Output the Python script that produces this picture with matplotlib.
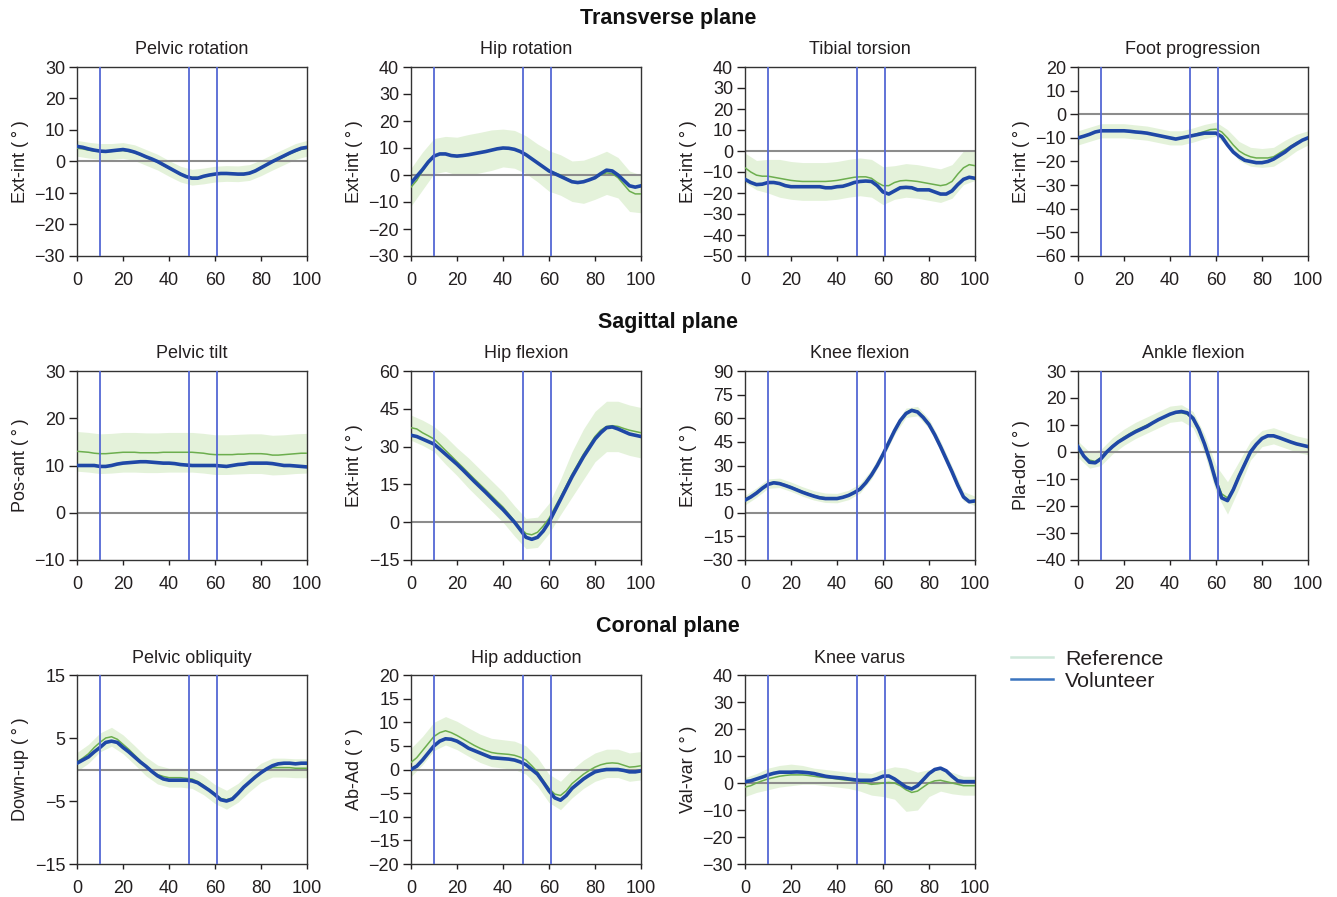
import numpy as np
import matplotlib
matplotlib.use("Agg")
import matplotlib.pyplot as plt
from matplotlib.lines import Line2D

plt.rcParams['font.family'] = ['Liberation Sans', 'DejaVu Sans']

# gait cycle (%) for the reference standard deviation band
cycle = [0, 5, 10, 15, 20, 25, 30, 35, 40, 45, 50, 55, 60, 65, 70, 75, 80, 85, 90, 95, 100]
# curves are sampled every 2.5 % of the gait cycle (0 ... 100)
events = [10, 48.6, 60.7]

row_titles = ["Transverse plane", "Sagittal plane", "Coronal plane"]

titles = ["Pelvic rotation", "Hip rotation", "Tibial torsion", "Foot progression",
          "Pelvic tilt", "Hip flexion", "Knee flexion", "Ankle flexion",
          "Pelvic obliquity", "Hip adduction", "Knee varus"]
ylabels = ["Ext-int (\u2009°\u2009)", "Ext-int (\u2009°\u2009)", "Ext-int (\u2009°\u2009)", "Ext-int (\u2009°\u2009)",
           "Pos-ant (\u2009°\u2009)", "Ext-int (\u2009°\u2009)", "Ext-int (\u2009°\u2009)", "Pla-dor (\u2009°\u2009)",
           "Down-up (\u2009°\u2009)", "Ab-Ad (\u2009°\u2009)", "Val-var (\u2009°\u2009)"]
yticks = [[-30, -20, -10, 0, 10, 20, 30],
          [-30, -20, -10, 0, 10, 20, 30, 40],
          [-50, -40, -30, -20, -10, 0, 10, 20, 30, 40],
          [-60, -50, -40, -30, -20, -10, 0, 10, 20],
          [-10, 0, 10, 20, 30],
          [-15, 0, 15, 30, 45, 60],
          [-30, -15, 0, 15, 30, 45, 60, 75, 90],
          [-40, -30, -20, -10, 0, 10, 20, 30],
          [-15, -5, 5, 15],
          [-20, -15, -10, -5, 0, 5, 10, 15, 20],
          [-30, -20, -10, 0, 10, 20, 30, 40]]

# Volunteer curves (every 2.5 %)
vol_pelvic_rot = [4.8, 4.5, 4.0, 3.6, 3.3, 3.2, 3.4, 3.6, 3.8, 3.5, 3.0, 2.3, 1.5, 0.8, 0.0, -1.0, -2.0, -3.0, -4.0, -4.8, -5.3,
                  -5.3, -4.7, -4.3, -4.0, -3.8, -3.8, -3.9, -4.0, -4.0, -3.7, -3.0, -2.0, -1.0, 0.0, 0.9, 1.8, 2.7, 3.5, 4.2, 4.5]
vol_hip_rot = [-3, -0.5, 2, 4.8, 7, 7.8, 7.8, 7.2, 7, 7.2, 7.5, 7.9, 8.3, 8.7, 9.2, 9.7, 10, 9.9, 9.5, 8.7, 7.5,
               6, 4.5, 3, 1.5, 0.5, -0.5, -1.5, -2.5, -2.8, -2.5, -1.8, -1, 0.5, 1.8, 1.5, 0, -2, -4, -4.5, -4]
vol_tibial = [-13.5, -15, -16, -15.8, -15, -15, -15.5, -16.5, -17, -17, -17, -17, -17, -17, -17.5, -17.5, -17, -16.8, -16, -15, -14.5,
              -14.3, -14.5, -16.5, -19.5, -20.5, -19, -17.5, -17.3, -17.5, -18.5, -18.5, -18.5, -19.5, -20.5, -20.5, -19, -16, -13.5, -12.5, -13]
vol_foot = [-10, -9.3, -8.5, -7.5, -7, -7, -7, -7, -7, -7.2, -7.5, -7.7, -8, -8.5, -9, -9.5, -10, -10.5, -10, -9.5, -9,
            -8.5, -8, -8, -8, -9.5, -13, -16, -18, -19.5, -20, -20.5, -20.5, -20, -19, -17.5, -16, -14, -12.5, -11, -10]
vol_pelvic_tilt = [10, 10, 10, 10, 9.8, 9.8, 10, 10.3, 10.5, 10.6, 10.7, 10.8, 10.8, 10.7, 10.6, 10.5, 10.5, 10.4, 10.2, 10.1, 10,
                   10, 10, 10, 10, 9.9, 9.8, 10, 10.2, 10.3, 10.5, 10.5, 10.5, 10.5, 10.4, 10.2, 10, 10, 9.9, 9.8, 9.7]
vol_hip_flex = [34.5, 34, 33, 32, 31, 29, 27, 25, 23, 20.8, 18.5, 16.2, 14, 11.8, 9.5, 7.2, 5, 2.5, 0, -3, -6,
                -6.8, -6, -3.5, 0, 4.5, 9, 13.5, 18, 22, 26, 29.5, 33, 35.5, 37.5, 37.8, 37, 36, 35, 34.5, 34]
vol_knee_flex = [8, 10, 12.5, 15.5, 18, 19, 18.5, 17.3, 16, 14.5, 13, 11.7, 10.5, 9.5, 9, 9, 9, 9.8, 11, 12.8, 15,
                 19, 24, 30, 37, 44.5, 52, 58.5, 63, 65, 64, 60.5, 56, 49.5, 42, 34, 26, 17.5, 10, 7, 7.5]
vol_ankle = [2, -1.5, -3.8, -4, -2.5, 0, 2, 3.7, 5, 6.3, 7.5, 8.5, 9.5, 10.8, 12, 13, 14, 14.7, 15, 14.5, 12.5,
             8.5, 3, -3.5, -11, -17, -18, -14, -9, -4.5, 0, 2.8, 5, 6, 6, 5.3, 4.5, 3.7, 3, 2.5, 2]
vol_pelvic_obl = [1, 1.5, 2, 2.8, 3.5, 4.3, 4.5, 4.3, 3.5, 2.8, 2, 1.2, 0.5, -0.3, -1, -1.5, -1.7, -1.7, -1.7, -1.7, -1.8,
                  -2.1, -2.7, -3.3, -4, -4.8, -5, -4.7, -3.8, -2.8, -2, -1.2, -0.5, 0.1, 0.6, 0.9, 1, 1, 0.9, 1, 1]
vol_hip_add = [0, 0.7, 2, 3.5, 5, 6, 6.5, 6.4, 6, 5.3, 4.5, 4, 3.5, 3, 2.5, 2.4, 2.3, 2.2, 2, 1.6, 1,
               0, -1, -2.7, -4.5, -6, -6.5, -5.5, -4, -3, -2, -1.2, -0.5, -0.2, 0, 0, 0, -0.2, -0.5, -0.5, -0.3]
vol_knee_var = [0.5, 0.8, 1.5, 2.2, 3, 3.6, 4, 4, 4, 4.1, 4, 3.8, 3.5, 3, 2.5, 2.2, 2, 1.8, 1.5, 1.2, 1,
                1, 1, 1.6, 2.5, 2.6, 1.5, 0, -1.5, -2.2, -1, 1.2, 3.5, 5, 5.5, 4.5, 2.5, 0.8, 0.5, 0.5, 0.5]

# Reference mean curves (every 2.5 %)
ref_pelvic_rot = [4.2, 4.0, 3.6, 3.3, 3.2, 3.1, 3.2, 3.4, 3.5, 3.2, 2.8, 2.1, 1.3, 0.6, -0.2, -1.2, -2.2, -3.1, -4.0, -4.6, -5.0,
                  -5.0, -4.6, -4.2, -4.0, -3.8, -3.8, -3.8, -3.9, -3.8, -3.5, -2.8, -2.0, -1.1, -0.2, 0.7, 1.5, 2.4, 3.2, 3.9, 4.2]
ref_hip_rot = [-4.5, -2, 1.5, 4.5, 7, 7.8, 7.8, 7.2, 7, 7.2, 7.5, 7.9, 8.3, 8.7, 9.2, 9.7, 10, 9.9, 9.5, 8.7, 7.5,
               6, 4.5, 3, 1.5, 0.8, 0, -1.2, -2.3, -2.7, -2.5, -1.8, -1, 0, 0.8, 0.5, -1, -3.5, -6, -7, -7]
ref_tibial = [-8, -10, -11.5, -12, -12, -12.5, -13, -13.5, -14, -14.3, -14.5, -14.5, -14.5, -14.5, -14.5, -14.3, -14, -13.5, -13, -12.5, -12.3,
              -12.3, -13, -15, -16.5, -16.5, -15, -14.2, -14, -14.2, -14.5, -15, -15.5, -16, -16.5, -16, -14.5, -11, -8, -6.5, -7]
ref_foot = [-10, -9.3, -8.5, -7.5, -7, -7, -7, -7, -7, -7.2, -7.5, -7.7, -8, -8.5, -9, -9.5, -10, -10.3, -10, -9.4, -8.8,
            -8, -7.3, -6.5, -6.3, -7.5, -10, -13, -15.5, -17, -18, -18.5, -18.5, -18.5, -18, -16.5, -15, -13.5, -12, -11, -10]
ref_pelvic_tilt = [13, 12.9, 12.8, 12.6, 12.5, 12.5, 12.6, 12.7, 12.8, 12.8, 12.8, 12.7, 12.7, 12.7, 12.7, 12.8, 12.8, 12.8, 12.8, 12.8, 12.8,
                   12.7, 12.6, 12.4, 12.3, 12.3, 12.3, 12.3, 12.4, 12.4, 12.5, 12.5, 12.5, 12.4, 12.2, 12.2, 12.3, 12.4, 12.5, 12.6, 12.6]
ref_hip_flex = [37.5, 37, 35.5, 34.3, 33, 30.8, 28.5, 26.3, 24, 21.8, 19.5, 17.2, 15, 12.8, 10.5, 8.2, 6, 3.3, 0.5, -2.3, -4.5,
                -5, -4, -1.5, 1.5, 5.8, 10, 14.5, 19, 23, 27, 30.5, 34, 36.5, 38, 38.3, 38, 37.2, 36.5, 36, 35.5]
ref_knee_flex = [8, 10.3, 12.8, 15.8, 18.5, 19.5, 19, 17.8, 16.5, 15, 13.5, 12.2, 11, 10, 9.5, 9.3, 9.3, 10, 11.3, 13, 15.5,
                 19.5, 24.5, 30.5, 37.5, 45, 52.5, 59, 63.5, 65.5, 64.5, 61, 56.5, 50, 42.5, 34.5, 26.5, 18, 10.5, 7.5, 7.5]
ref_ankle = [1, -1.5, -3, -3.5, -2, 0.3, 2.3, 4, 5.5, 6.8, 8, 9, 10, 11, 12, 13, 14, 14.5, 14.5, 14, 12,
             8, 3, -3.5, -10, -15.5, -17, -13.5, -8.5, -4, 0.5, 3, 5, 6, 6, 5.3, 4.5, 3.7, 3, 2.5, 2]
ref_pelvic_obl = [1.2, 1.8, 2.5, 3.5, 4.3, 5, 5.2, 4.8, 4, 3.2, 2.3, 1.4, 0.5, -0.3, -0.8, -1.1, -1.3, -1.3, -1.3, -1.4, -1.5,
                  -1.9, -2.5, -3.2, -3.9, -4.6, -4.8, -4.5, -3.7, -2.8, -2, -1.2, -0.5, 0, 0.3, 0.3, 0.3, 0.3, 0.2, 0.2, 0.2]
ref_hip_add = [1.5, 2.5, 4, 5.5, 7, 7.8, 8.2, 7.8, 7.2, 6.5, 5.8, 5.1, 4.5, 4, 3.6, 3.4, 3.3, 3.2, 3, 2.6, 2,
               0.8, -0.5, -2.3, -4, -5.2, -5.5, -4.5, -3, -2, -1, -0.2, 0.5, 1, 1.3, 1.4, 1.3, 0.9, 0.5, 0.6, 0.8]
ref_knee_var = [-1.5, -1, 0, 0.8, 1.5, 2, 2.5, 2.8, 3, 3, 3, 2.8, 2.5, 2.2, 2, 1.8, 1.5, 1.2, 1, 0.8, 0.5,
                0, -0.5, -0.3, 0, 0.2, 0, -1, -2.5, -3.5, -3, -1.5, 0, 0.8, 1, 0.5, 0, -0.5, -1, -1, -1]

# Reference standard deviation (band half-width, every 5 %)
sd_pelvic_rot = [2.5] * 21
sd_hip_rot = [7, 7, 6.5, 6.5, 7, 7.5, 7.5, 7.5, 7, 7, 7, 7, 7.5, 7.5, 7.5, 8, 8, 8, 7.5, 7.5, 7]
sd_tibial = [7, 7, 8, 9, 9, 9, 9, 9, 9, 9, 9, 9, 9, 8, 8, 8, 8, 8, 8, 8, 7]
sd_foot = [3, 3, 3, 3, 3, 3, 3, 3, 3, 3, 3, 3, 3, 3.5, 4, 4, 4, 4, 4, 3.5, 3]
sd_pelvic_tilt = [4.2] * 21
sd_hip_flex = [5, 5, 5, 5.5, 5.5, 6, 6, 6, 6, 6, 6, 6, 6, 7, 9, 10, 10, 10, 10, 10, 10]
sd_knee_flex = [3] * 21
sd_ankle = [3, 3, 3, 3, 3, 3, 3, 3, 3, 3, 3, 3.5, 5, 6, 5, 3.5, 3, 3, 3, 3, 3]
sd_pelvic_obl = [1.5] * 21
sd_hip_add = [3] * 21
sd_knee_var = [3.5, 3.5, 4, 4, 4, 3.5, 3, 3, 3, 3, 3.5, 4, 5, 6, 8, 7, 5, 4, 4, 3.5, 3.5]

volunteer = [vol_pelvic_rot, vol_hip_rot, vol_tibial, vol_foot, vol_pelvic_tilt, vol_hip_flex,
             vol_knee_flex, vol_ankle, vol_pelvic_obl, vol_hip_add, vol_knee_var]
reference = [ref_pelvic_rot, ref_hip_rot, ref_tibial, ref_foot, ref_pelvic_tilt, ref_hip_flex,
             ref_knee_flex, ref_ankle, ref_pelvic_obl, ref_hip_add, ref_knee_var]
ref_sd = [sd_pelvic_rot, sd_hip_rot, sd_tibial, sd_foot, sd_pelvic_tilt, sd_hip_flex,
          sd_knee_flex, sd_ankle, sd_pelvic_obl, sd_hip_add, sd_knee_var]

W, H = 1337, 897
fig = plt.figure(figsize=(W / 100, H / 100), dpi=100)

col_left = [77, 411, 745, 1078]
row_top = [67, 371, 675]
ax_w, ax_h = 230, 189

band_c = '#d9edcb'
ref_c = '#6cae4e'
vol_c = '#1f48a6'
ev_c = '#5468d4'
zero_c = '#8c8c8c'
txt_c = '#231f20'

xc = np.array(cycle)
for i in range(11):
    r, c = divmod(i, 4)
    ax = fig.add_axes([col_left[c] / W, 1 - (row_top[r] + ax_h) / H, ax_w / W, ax_h / H])
    ref = np.array(reference[i])
    vol = np.array(volunteer[i])
    xr = np.linspace(0, 100, len(ref))
    xv = np.linspace(0, 100, len(vol))
    sd = np.array(ref_sd[i])
    centre = ref[::2] if len(ref) == 41 else np.interp(xc, xr, ref)
    ax.fill_between(xc, centre - sd, centre + sd, color=band_c, alpha=0.7, lw=0, zorder=1)
    ax.axhline(0, color=zero_c, lw=1.5, zorder=2)
    ax.plot(xr, ref, color=ref_c, lw=1.1, zorder=3)
    ax.plot(xv, vol, color=vol_c, lw=2.6, zorder=4, solid_joinstyle='round')
    for e in events:
        ax.axvline(e, color=ev_c, lw=1.3, zorder=5)
    yt = yticks[i]
    ax.set_ylim(yt[0], yt[-1])
    ax.set_yticks(yt)
    ax.set_yticklabels([str(v).replace('-', '\u2212') for v in yt])
    ax.set_xlim(0, 100)
    ax.set_xticks([0, 20, 40, 60, 80, 100])
    ax.tick_params(labelsize=13, width=1, colors=txt_c)
    ax.tick_params(axis='x', length=3.6, pad=8)
    ax.tick_params(axis='y', length=5.5, pad=3)
    for s in ax.spines.values():
        s.set_color('#333333')
        s.set_linewidth(1.0)
    ax.set_title(titles[i], fontsize=13, pad=9, color=txt_c)
    ax.set_ylabel(ylabels[i], fontsize=13, labelpad=4, color=txt_c)

for r, t in enumerate(row_titles):
    fig.text(668 / W, 1 - (24 + 304 * r) / H, t, ha='center', va='baseline',
             fontsize=15.5, fontweight='bold', color='#111111')

handles = [Line2D([], [], color='#cfe8da', lw=1.8), Line2D([], [], color='#3a74bf', lw=1.8)]
fig.legend(handles, ["Reference", "Volunteer"], loc='upper left',
           bbox_to_anchor=(1002 / W, 1 - 641 / H), frameon=False, fontsize=15.4,
           handlelength=2.0, handletextpad=0.55, labelspacing=0.15, borderaxespad=0,
           labelcolor=txt_c)

fig.savefig('out.png', dpi=100)
